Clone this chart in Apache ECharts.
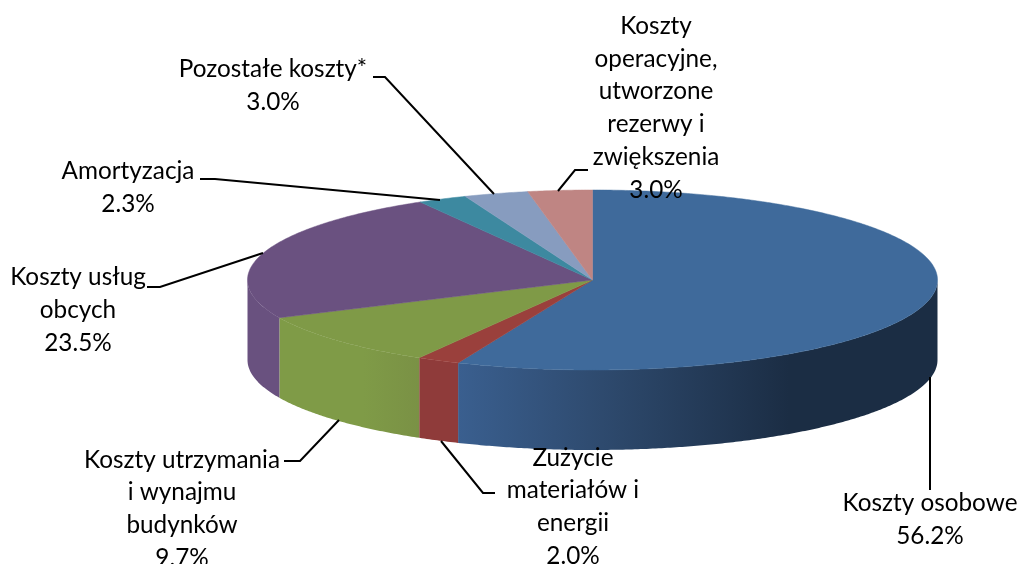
<!DOCTYPE html>
<html>
<head>
<meta charset="utf-8">
<script src="https://cdn.jsdelivr.net/npm/echarts@6/dist/echarts.min.js"></script>
<style>
  html, body { margin: 0; padding: 0; background: #fff; }
  #chart { width: 1017px; height: 564px; }
</style>
</head>
<body>
<div id="chart"></div>
<script>
// dane z wykresu, kolejnosc zgodnie z ruchem wskazowek zegara od godziny 12
var categories = [
  'Koszty osobowe',
  'Zużycie\nmateriałów i\nenergii',
  'Koszty utrzymania\ni wynajmu\nbudynków',
  'Koszty usług\nobcych',
  'Amortyzacja',
  'Pozostałe koszty*',
  'Koszty\noperacyjne,\nutworzone\nrezerwy i\nzwiększenia'
];
var values = [56.2, 2.0, 9.7, 23.5, 2.3, 3.0, 3.0];

// style
var topColors = ['#3f6a9b', '#9a403c', '#7f9a47', '#6a5180', '#3d89a0', '#879cbf', '#bf8583'];
var wallStops = [
  [[0, '#3a5f8f'], [0.3, '#2e4a6e'], [0.69, '#1b2d44'], [1, '#1b2d44']],
  [[0, '#8f3b3a'], [1, '#8f3b3a']],
  [[0, '#7f9b47'], [0.6, '#7f9b47'], [1, '#7a9145']],
  [[0, '#69517f'], [1, '#69517f']],
  null, null, null
];

// uklad: elipsa i etykiety
var cx = 592.5, cy = 280, rx = 345, ry = 90, depth = 80;
var labelPos = [[930, 519.5], [573, 507], [182, 509], [78, 310], [128, 188], [273, 85.5], [656, 108]];
var leaders = [
  [[930, 377], [930, 490]],
  [[441, 441], [483, 493], [495, 493]],
  [[339, 420], [300, 461], [284, 461]],
  [[263, 253], [160, 287], [147, 287]],
  [[440, 200], [215, 179], [200, 179]],
  [[494, 194], [385, 77], [373, 77]],
  [[558, 191], [575, 170], [588, 170]]
];

var total = values.reduce(function (a, b) { return a + b; }, 0);
var sum = 0;
var sliceData = values.map(function (v, i) {
  var start = sum / total * 360;
  sum += v;
  return { name: categories[i], value: [start, sum / total * 360, v] };
});

function rimPoint(deg, dy) {
  var a = deg * Math.PI / 180;
  return [cx + rx * Math.sin(a), cy - ry * Math.cos(a) + (dy || 0)];
}

function arcPoints(from, to, dy) {
  var pts = [];
  var n = Math.max(2, Math.ceil((to - from) * 2));
  for (var i = 0; i <= n; i++) {
    pts.push(rimPoint(from + (to - from) * i / n, dy));
  }
  return pts;
}

function renderSlice(params, api) {
  var i = params.dataIndex;
  var start = api.value(0), end = api.value(1);
  var children = [];

  // sciana boczna - widoczna tylko z przodu (90-270 stopni)
  var wallFrom = Math.max(start, 90), wallTo = Math.min(end, 270);
  if (wallTo > wallFrom && wallStops[i]) {
    var upper = arcPoints(wallFrom, wallTo, 0);
    var lower = arcPoints(wallFrom, wallTo, depth).reverse();
    var fill = {
      type: 'linear', x: 0, y: 0, x2: 1, y2: 0,
      colorStops: wallStops[i].map(function (s) { return { offset: s[0], color: s[1] }; })
    };
    children.push({
      type: 'polygon',
      shape: { points: upper.concat(lower) },
      style: { fill: fill }
    });
  }

  children.push({
    type: 'polygon',
    z2: 2,
    shape: { points: [[cx, cy]].concat(arcPoints(start, end, 0)) },
    style: { fill: topColors[i], stroke: topColors[i], lineWidth: 0.5 }
  });

  children.push({
    type: 'polyline',
    z2: 5,
    shape: { points: leaders[i] },
    style: { fill: null, stroke: '#000', lineWidth: 2 }
  });

  children.push({
    type: 'text',
    z2: 6,
    x: labelPos[i][0],
    y: labelPos[i][1],
    style: {
      text: categories[i] + '\n' + api.value(2).toFixed(1) + '%',
      fill: '#000',
      font: '24.3px Lato',
      lineHeight: 32.8,
      align: 'center',
      verticalAlign: 'middle'
    }
  });

  return { type: 'group', children: children };
}

var chart = echarts.init(document.getElementById('chart'));
chart.setOption({
  animation: false,
  backgroundColor: '#fff',
  tooltip: { show: false },
  series: [{
    type: 'custom',
    coordinateSystem: 'none',
    silent: true,
    clip: false,
    data: sliceData,
    renderItem: renderSlice
  }]
});
</script>
</body>
</html>
